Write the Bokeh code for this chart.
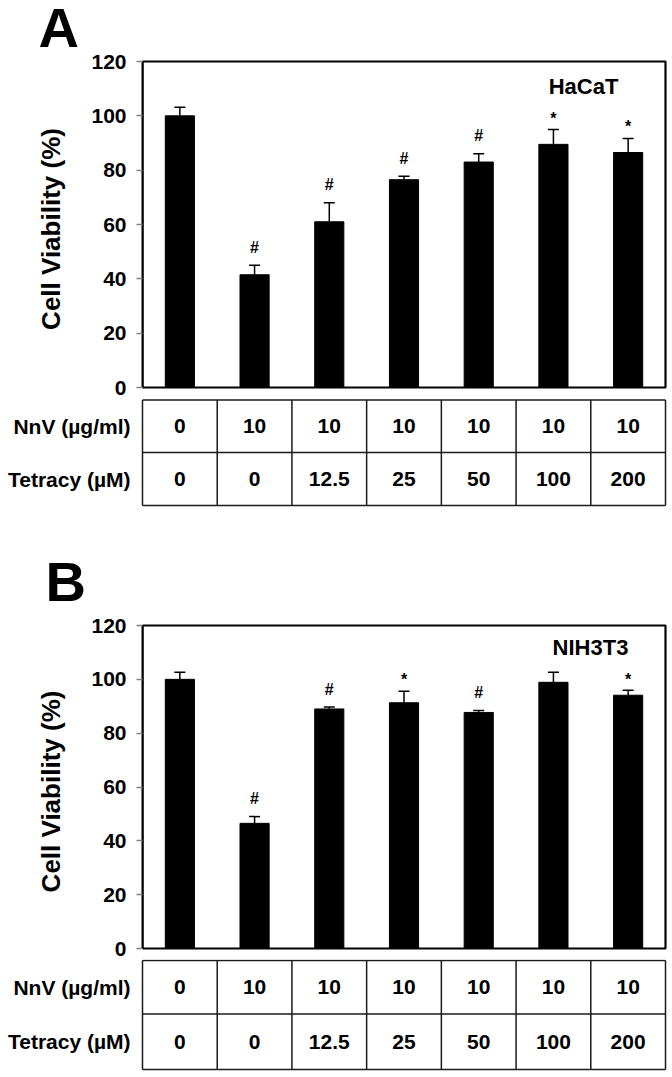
from bokeh.plotting import figure
from bokeh.models import Range1d, FixedTicker, Whisker, ColumnDataSource, TeeHead
from bokeh.layouts import column
from bokeh.core.properties import value
from bokeh.embed import file_html
from bokeh.resources import INLINE

# ---------------- data ----------------
n_groups = 7
y_ticks = [0, 20, 40, 60, 80, 100, 120]

values_a = [100, 41.5, 61, 76.5, 83, 89.5, 86.5]
errors_a = [3.2, 3.5, 7, 1.3, 3, 5.5, 5.2]
marks_a = ["", "#", "#", "#", "#", "*", "*"]
cell_a = "HaCaT"

values_b = [100, 46.5, 89, 91.3, 87.7, 98.9, 94.1]
errors_b = [2.6, 2.5, 0.7, 4.3, 0.7, 3.7, 1.8]
marks_b = ["", "#", "#", "*", "#", "", "*"]
cell_b = "NIH3T3"

nnv_row = ["0", "10", "10", "10", "10", "10", "10"]
tetracy_row = ["0", "0", "12.5", "25", "50", "100", "200"]
row_labels = ["NnV (\u00b5g/ml)", "Tetracy (\u00b5M)"]
y_label = "Cell Viability (%)"

# ---------------- layout / style ----------------
FONT = "Liberation Sans"
W = 668
AXIS_X = 142          # page x of the y axis
BOX_RIGHT = 665       # page x of the right border
CAT = (BOX_RIGHT - AXIS_X) / n_groups
X_START_FULL = -AXIS_X / CAT
X_END = (W - AXIS_X) / CAT
MARK_OFFSET = {"#": 6.6, "*": 4.2, "": 0}


def base_fig(height, x_range, y_range, **kw):
    p = figure(width=W, height=height, x_range=x_range, y_range=y_range,
               output_backend="svg", toolbar_location=None, **kw)
    p.frame_align = False
    p.xgrid.visible = False
    p.ygrid.visible = False
    p.outline_line_color = None
    p.background_fill_color = "white"
    p.border_fill_color = "white"
    return p


def free_fig(height):
    """figure whose frame covers the whole canvas; y in pixels from its top"""
    p = base_fig(height, Range1d(X_START_FULL, X_END), Range1d(height, 0),
                 x_axis_location=None, y_axis_location=None,
                 min_border=0, min_border_left=0, min_border_right=0,
                 min_border_top=0, min_border_bottom=0)
    return p


def add_letter(p, letter, center_y, left):
    p.text(x=[(left - AXIS_X) / CAT], y=[center_y], text=[letter],
           text_align="left", text_baseline="middle", text_font=value(FONT),
           text_font_size="56px", text_font_style="bold", text_color="black")


def chart_fig(cell_name, vals, errs, marks, fig_top, fig_bot, py120, py0, name_px):
    u = (py0 - py120) / 120.0
    frame_top = py120 - 2
    H = fig_bot - fig_top
    y_end = 120 + 2 / u
    y_start = -(fig_bot - py0) / u
    p = base_fig(H, Range1d(0, X_END), Range1d(y_start, y_end),
                 x_axis_location=None,
                 min_border_left=AXIS_X, min_border_right=0,
                 min_border_top=frame_top - fig_top, min_border_bottom=0)

    ax = p.yaxis[0]
    ax.ticker = FixedTicker(ticks=y_ticks)
    ax.bounds = (0, 120)
    ax.axis_label = y_label
    ax.axis_label_text_font = FONT
    ax.axis_label_text_font_size = "26px"
    ax.axis_label_text_font_style = "bold"
    ax.axis_label_text_color = "black"
    ax.axis_label_standoff = 22
    ax.major_label_text_font = FONT
    ax.major_label_text_font_size = "21px"
    ax.major_label_text_font_style = "bold"
    ax.major_label_text_color = "black"
    ax.major_label_standoff = 10
    ax.major_tick_out = 6
    ax.major_tick_in = 0
    ax.minor_tick_out = 0
    ax.minor_tick_in = 0
    ax.major_tick_line_color = "#808080"
    ax.major_tick_line_width = 1.5
    ax.axis_line_color = "black"
    ax.axis_line_width = 2

    xc = [i + 0.5 for i in range(n_groups)]
    upper = [v + e for v, e in zip(vals, errs)]
    src = ColumnDataSource(dict(x=xc, top=vals, upper=upper, lower=vals,
                                my=[t + MARK_OFFSET[m] for t, m in zip(upper, marks)],
                                mark=marks))

    p.vbar(x="x", top="top", width=0.39, bottom=0, source=src,
           fill_color="black", line_color="black")
    p.add_layout(Whisker(base="x", upper="upper", lower="lower", source=src,
                         line_color="black", line_width=1.5,
                         upper_head=TeeHead(size=11, line_color="black", line_width=1.5),
                         lower_head=None))
    p.text(x="x", y="my", text="mark", source=src, text_align="center",
           text_baseline="middle", text_font=value(FONT),
           text_font_size="16px", text_font_style="bold", text_color="black")

    # chart box
    p.quad(left=0, right=n_groups, bottom=0, top=120, fill_color=None,
           line_color="black", line_width=2.2)

    # cell line name
    nx, ncy = name_px
    p.text(x=[(nx - AXIS_X) / CAT], y=[(py0 - ncy) / u], text=[cell_name],
           text_align="center", text_baseline="middle", text_font=value(FONT),
           text_font_size="22px", text_font_style="bold", text_color="black")
    return p


def table_fig(fig_top, fig_bot, lines_py):
    H = fig_bot - fig_top
    p = free_fig(H)
    ty = [lp - fig_top for lp in lines_py]
    p.segment(x0=[0] * 3, x1=[n_groups] * 3, y0=ty, y1=ty,
              line_color="#1a1a1a", line_width=1.5)
    p.segment(x0=list(range(n_groups + 1)), x1=list(range(n_groups + 1)),
              y0=[ty[0]] * (n_groups + 1), y1=[ty[-1]] * (n_groups + 1),
              line_color="#1a1a1a", line_width=1.5)
    xc = [i + 0.5 for i in range(n_groups)]
    for r, row in enumerate([nnv_row, tetracy_row]):
        yc = (ty[r] + ty[r + 1]) / 2
        p.text(x=xc, y=[yc] * n_groups, text=row, text_align="center",
               text_baseline="middle", text_font=value(FONT),
               text_font_size="21px", text_font_style="bold", text_color="black")
        p.text(x=[(130 - AXIS_X) / CAT], y=[yc], text=[row_labels[r]],
               text_align="right", text_baseline="middle", text_font=value(FONT),
               text_font_size="21px", text_font_style="bold", text_color="black")
    return p


head = free_fig(50)
add_letter(head, "A", 27, 38)
chartA = chart_fig(cell_a, values_a, errors_a, marks_a, fig_top=50, fig_bot=398,
                   py120=61, py0=387, name_px=(583, 86))
tableA = table_fig(398, 612, [399.5, 452, 505])
add_letter(tableA, "B", 581 - 398, 45)
chartB = chart_fig(cell_b, values_b, errors_b, marks_b, fig_top=612, fig_bot=959,
                   py120=625, py0=948, name_px=(590, 647))
tableB = table_fig(959, 1077, [960, 1013.5, 1069])

layout = column(head, chartA, tableA, chartB, tableB, spacing=0)
open("out.html", "w").write(file_html(layout, INLINE))
